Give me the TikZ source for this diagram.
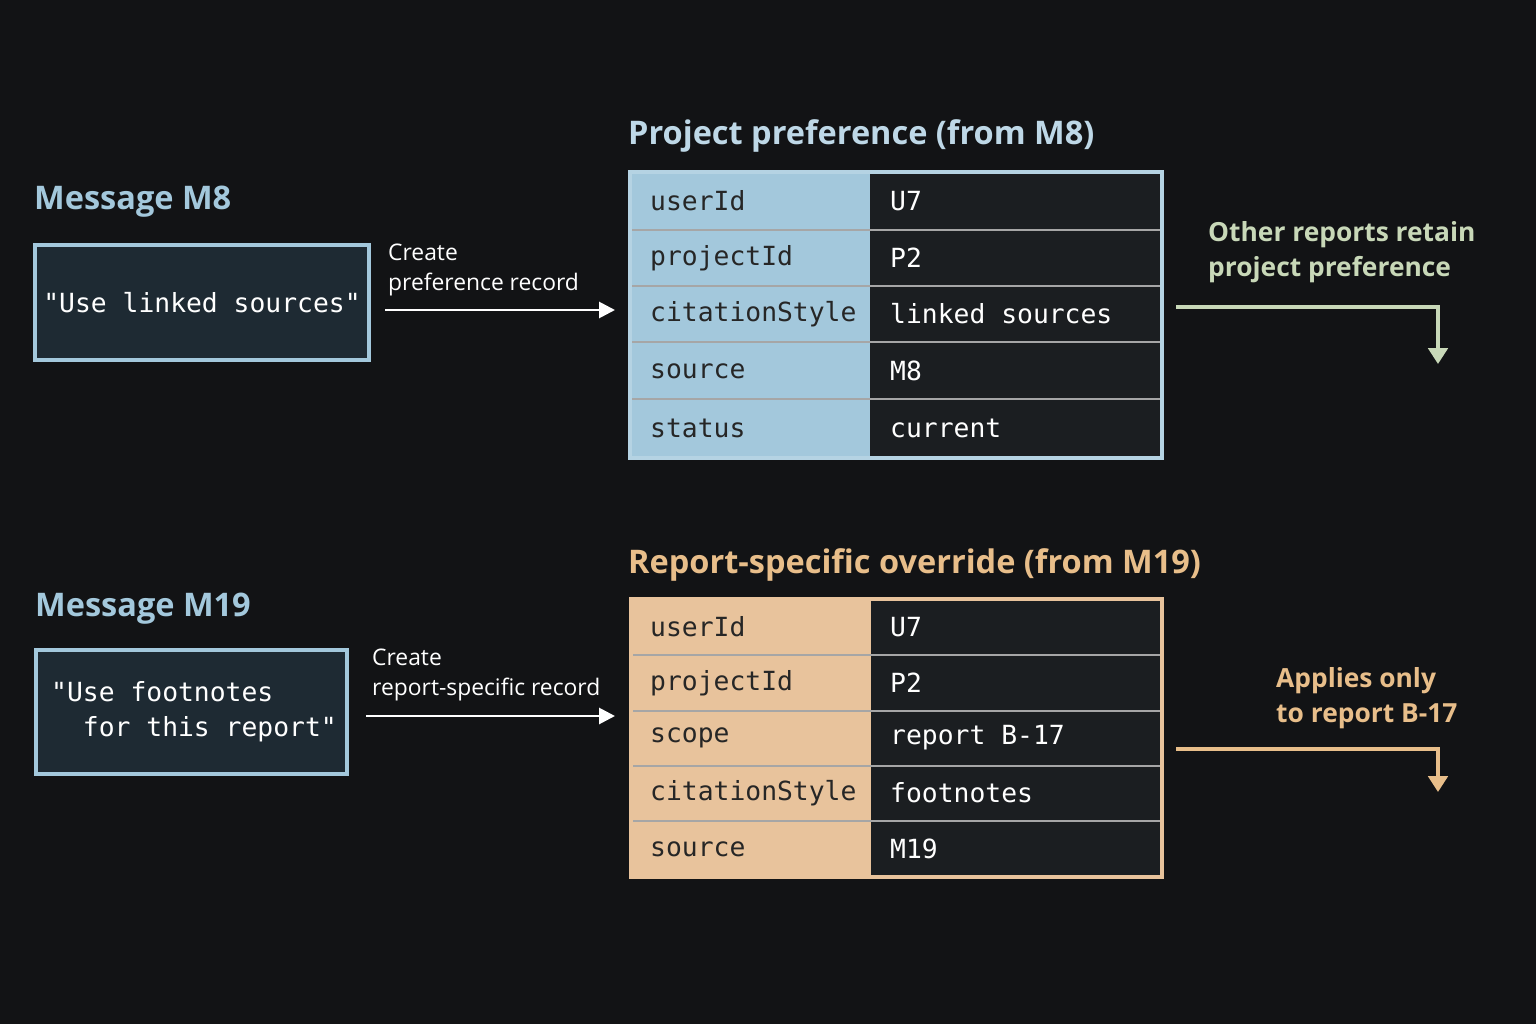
\documentclass[tikz,border=0pt]{standalone}
\usepackage{fontspec}
\setmainfont{Open Sans}
\setmonofont{DejaVu Sans Mono}
\usetikzlibrary{positioning,arrows.meta}
\definecolor{bg}{HTML}{121315}
\definecolor{boxfill}{HTML}{1E2A33}
\definecolor{cell}{HTML}{1B1E21}
\definecolor{skyb}{HTML}{A3C8DC}
\definecolor{peach}{HTML}{E8C39C}
\definecolor{sage}{HTML}{C8D8B8}
\definecolor{amber}{HTML}{E8BE8A}
\tikzset{
  title/.style={anchor=west,font=\bfseries\fontsize{18.5}{22}\selectfont},
  msgtext/.style={text=white,font=\ttfamily\fontsize{15}{20}\selectfont,align=left},
  keycell/.style={anchor=west,font=\ttfamily\fontsize{15}{20}\selectfont,text=black!85},
  valcell/.style={anchor=west,font=\ttfamily\fontsize{15}{20}\selectfont,text=white},
  note/.style={anchor=west,align=left,text=white,font=\fontsize{13}{17}\selectfont},
  flow/.style={draw=white,line width=1.6pt,-{Triangle[length=9pt,width=9pt]}},
  side/.style={anchor=west,align=left,font=\bfseries\fontsize{15}{20}\selectfont},
}
\begin{document}
\begin{tikzpicture}[x=0.02cm,y=-0.02cm]
  \fill[bg] (0,0) rectangle (1536,1024);

  % upper: project preference
  \node[title,text=skyb] (t8) at (28,202) {Message M8};
  \draw[skyb,line width=2pt,fill=boxfill] (35,245) rectangle (369,360);
  \node[msgtext] (q8) at (202,303) {"Use linked sources"};
  \node[note] (c8) at (382,270) {Create\\preference record};
  \node[title,text=skyb!70!white] (tp) at (622,136) {Project preference (from M8)};
  \fill[skyb] (630,172) rectangle (870,458);
  \fill[cell] (870,172) rectangle (1162,458);
  \foreach \y/\k/\v [count=\i] in {201/userId/U7,258/projectId/P2,314/citationStyle/linked sources,371/source/M8,428/status/current}{
    \node[keycell] (pk\i) at (644,\y) {\k};
    \node[valcell] (pv\i) at (884,\y) {\v};
  }
  \foreach \y in {230,286,342,399}
    \draw[gray!70,line width=0.8pt] (630,\y) -- (1162,\y);
  \draw[skyb!80!white,line width=2pt] (630,172) rectangle (1162,458);
  \coordinate (a8) at (385,310);
  \coordinate (b8) at (615,310);
  \draw[flow] (a8) -- (b8);
  \node[side,text=sage] (r8) at (1202,252) {Other reports retain\\project preference};
  \coordinate (s8) at (1176,307);
  \coordinate (e8) at (1438,364);
  \draw[sage,line width=2pt,-{Triangle[length=9pt,width=11pt]}] (s8) -| (e8);

  % lower: report-specific override
  \node[title,text=skyb] (t19) at (29,609) {Message M19};
  \draw[skyb,line width=2pt,fill=boxfill] (36,650) rectangle (347,774);
  \node[msgtext] (q19) at (194,712) {"Use footnotes\\\ \ for this report"};
  \node[note] (c19) at (366,675) {Create\\report-specific record};
  \node[title,text=amber] (to) at (622,565) {Report-specific override (from M19)};
  \fill[peach] (631,599) rectangle (871,877);
  \fill[cell] (871,599) rectangle (1162,877);
  \foreach \y/\k/\v [count=\i] in {627/userId/U7,683/projectId/P2,738/scope/report B-17,793/citationStyle/footnotes,849/source/M19}{
    \node[keycell] (ok\i) at (644,\y) {\k};
    \node[valcell] (ov\i) at (884,\y) {\v};
  }
  \foreach \y in {655,711,766,821}
    \draw[gray!70,line width=0.8pt] (631,\y) -- (1162,\y);
  \draw[peach,line width=2pt] (631,599) rectangle (1162,877);
  \coordinate (a19) at (366,716);
  \coordinate (b19) at (615,716);
  \draw[flow] (a19) -- (b19);
  \node[side,text=amber] (r19) at (1270,698) {Applies only\\to report B-17};
  \coordinate (s19) at (1176,749);
  \coordinate (e19) at (1438,792);
  \draw[amber,line width=2pt,-{Triangle[length=9pt,width=11pt]}] (s19) -| (e19);
\end{tikzpicture}
\end{document}
